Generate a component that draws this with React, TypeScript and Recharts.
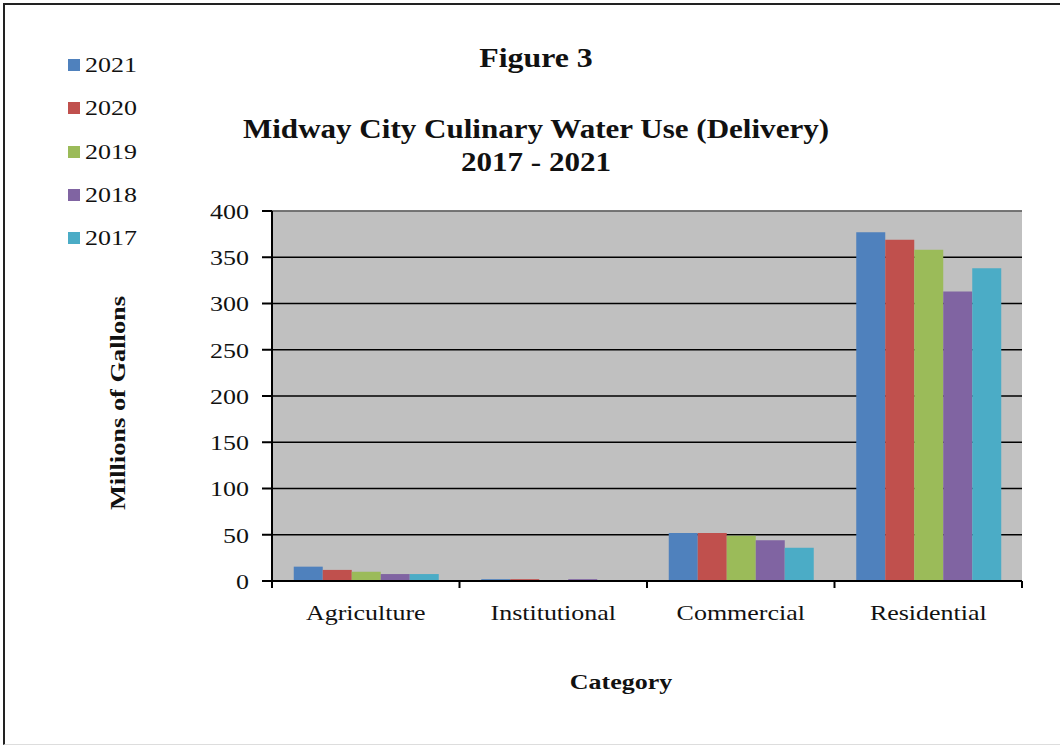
import { BarChart, Bar, XAxis, YAxis, CartesianGrid, ReferenceLine } from 'recharts'

const categories = ['Agriculture', 'Institutional', 'Commercial', 'Residential']
const years = ['2021', '2020', '2019', '2018', '2017']
const colors = ['#4F81BD', '#C0504D', '#9BBB59', '#8064A2', '#4BACC6']

const y2021 = [15.5, 2, 52, 377]
const y2020 = [12, 2, 52, 369]
const y2019 = [10, 1, 49, 358]
const y2018 = [7.5, 2, 44, 313]
const y2017 = [7.5, 1, 36, 338]
const yTicks = [0, 50, 100, 150, 200, 250, 300, 350, 400]

const seriesValues = [y2021, y2020, y2019, y2018, y2017]

const data = categories.map((c, i) => {
  const row: Record<string, string | number> = { category: c }
  years.forEach((y, j) => {
    row[y] = seriesValues[j][i]
  })
  return row
})

const W = 1060
const H = 746
const M = { top: 211, right: 38, left: 192, bottom: 125 }
const Y_W = 80
const X_H = 40
const PLOT_W = W - M.left - Y_W - M.right
const BAND = PLOT_W / categories.length

const serif = '"Liberation Serif", "Times New Roman", serif'
// the source picture is stretched sideways a little
const SX = 1.18

function CatTick(props: any) {
  const { x, y, payload, index } = props
  const axisY = y - 23
  return (
    <g>
      <line x1={x - BAND / 2} x2={x - BAND / 2} y1={axisY} y2={axisY + 7} stroke="#000" strokeWidth={2} />
      {index === categories.length - 1 && (
        <line x1={x + BAND / 2} x2={x + BAND / 2} y1={axisY} y2={axisY + 7} stroke="#000" strokeWidth={2} />
      )}
      <g transform={`translate(${x},${y}) scale(${SX},1)`}>
        <text x={0} y={0} dy="0.71em" textAnchor="middle" fontFamily={serif} fontSize={22} fill="#111">
          {payload.value}
        </text>
      </g>
    </g>
  )
}

function ValTick(props: any) {
  const { x, y, payload } = props
  return (
    <g transform={`translate(${x},${y}) scale(${SX},1)`}>
      <text x={0} y={0} dy="0.355em" textAnchor="end" fontFamily={serif} fontSize={22} fill="#111">
        {payload.value}
      </text>
    </g>
  )
}

const textBase: React.CSSProperties = {
  position: 'absolute',
  fontFamily: serif,
  fontWeight: 700,
  color: '#111',
  whiteSpace: 'nowrap',
}

export default function App() {
  return (
    <div style={{ position: 'absolute', left: 0, top: 0, width: W, height: H, background: '#fff', overflow: 'hidden' }}>
      <div style={{ position: 'absolute', left: 3, top: 3, width: W + 20, height: 739, borderTop: '2px solid #222', borderLeft: '2px solid #222', borderBottom: '1px solid #ddd' }} />
      <div style={{ ...textBase, left: 536, top: 43, fontSize: 27, transform: `translateX(-50%) scaleX(${SX})` }}>
        Figure 3
      </div>
      <div style={{ ...textBase, left: 536, top: 113, fontSize: 27, lineHeight: '33px', textAlign: 'center', transform: `translateX(-50%) scaleX(1.15)` }}>
        Midway City Culinary Water Use (Delivery)
        <br />
        2017 - 2021
      </div>
      <div style={{ ...textBase, left: 118, top: 403, fontSize: 22, transform: `translate(-50%, -50%) rotate(-90deg) scaleX(1.2)` }}>
        Millions of Gallons
      </div>
      <div style={{ ...textBase, left: 621, top: 669, fontSize: 22, transform: `translateX(-50%) scaleX(${SX})` }}>
        Category
      </div>
      <div style={{ position: 'absolute', left: 68, top: 51 }}>
        {years.map((y, i) => (
          <div key={y} style={{ display: 'flex', alignItems: 'center', height: 28, marginBottom: 15.3 }}>
            <span style={{ width: 12, height: 12, background: colors[i], display: 'inline-block' }} />
            <span style={{ fontFamily: serif, fontSize: 22, color: '#111', marginLeft: 5, display: 'inline-block', transform: `scaleX(${SX})`, transformOrigin: 'left center' }}>
              {y}
            </span>
          </div>
        ))}
      </div>
      <BarChart width={W} height={H} data={data} margin={M} barCategoryGap="11.6%" barGap={0}>
        <CartesianGrid vertical={false} stroke="#000" strokeWidth={1.5} fill="#c0c0c0" />
        <XAxis
          dataKey="category"
          height={X_H}
          axisLine={{ stroke: '#000', strokeWidth: 2 }}
          tickLine={false}
          tickSize={7}
          tickMargin={16}
          tick={<CatTick />}
          interval={0}
        />
        <YAxis
          width={Y_W}
          domain={[0, 400]}
          ticks={yTicks}
          axisLine={{ stroke: '#000', strokeWidth: 2 }}
          tickLine={{ stroke: '#000', strokeWidth: 2 }}
          tickSize={10}
          tickMargin={13}
          tick={<ValTick />}
        />
        <YAxis yAxisId="r" orientation="right" width={0} tick={false} tickLine={false} domain={[0, 400]} axisLine={{ stroke: '#888', strokeWidth: 1.5 }} />
        <ReferenceLine y={400} stroke="#888" strokeWidth={1.5} />
        {years.map((y, i) => (
          <Bar key={y} dataKey={y} fill={colors[i]} isAnimationActive={false} />
        ))}
      </BarChart>
    </div>
  )
}
